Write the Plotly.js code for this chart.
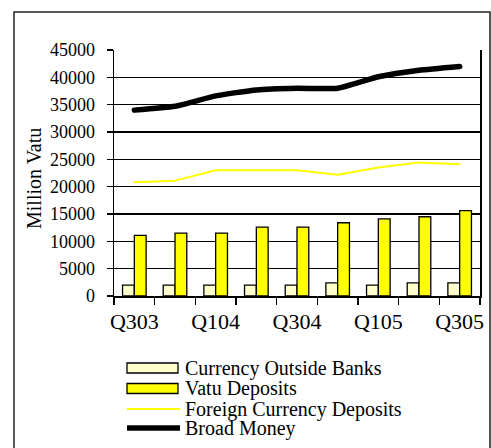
<!DOCTYPE html>
<html>
<head>
<meta charset="utf-8">
<script src="https://cdn.plot.ly/plotly-3.0.1.min.js"></script>
<style>
html,body{margin:0;padding:0;background:#fff;}
#chart{width:491px;height:448px;}
.js-line{stroke-linecap:round;stroke-linejoin:round;}
</style>
</head>
<body>
<div id="chart"></div>
<script>
// ---- data ----
var quarters = ['Q303','Q403','Q104','Q204','Q304','Q404','Q105','Q205','Q305'];
var tickLabels = ['Q303','','Q104','','Q304','','Q105','','Q305'];
var currencyOutsideBanks = [2000, 2000, 2000, 2000, 2000, 2400, 2000, 2400, 2400];
var vatuDeposits = [11100, 11500, 11500, 12600, 12600, 13400, 14100, 14500, 15600];
var foreignCurrencyDeposits = [20800, 21100, 23000, 23000, 23000, 22200, 23500, 24400, 24100];
var broadMoney = [34000, 34700, 36600, 37700, 38000, 38000, 40100, 41300, 42000];
var seriesNames = ['Currency Outside Banks', 'Vatu Deposits', 'Foreign Currency Deposits', 'Broad Money'];
var yTitle = 'Million Vatu';

// ---- geometry helpers (pixel -> paper) ----
var W = 491, H = 448;
var M = {l: 114, r: 11, t: 50, b: 152};
var PW = W - M.l - M.r, PH = H - M.t - M.b;
function px(x){ return (x - M.l) / PW; }
function py(y){ return (H - M.b - y) / PH; }

var FONT = '"Liberation Serif", "Times New Roman", "DejaVu Serif", serif';

var traces = [
  {type:'bar', x:quarters, y:currencyOutsideBanks, name:seriesNames[0],
   marker:{color:'#FFFFCC', line:{color:'#000', width:1.3}}, showlegend:false, hoverinfo:'y'},
  {type:'bar', x:quarters, y:vatuDeposits, name:seriesNames[1],
   marker:{color:'#FFFF00', line:{color:'#000', width:1.3}}, showlegend:false, hoverinfo:'y'},
  {type:'scatter', mode:'lines', x:quarters, y:foreignCurrencyDeposits, name:seriesNames[2],
   line:{color:'#FFFF00', width:2}, showlegend:false},
  {type:'scatter', mode:'lines', x:quarters, y:broadMoney, name:seriesNames[3],
   line:{color:'#000', width:5.5, shape:'spline', smoothing:0.5}, showlegend:false}
];

// custom legend (symbols + labels)
var legRows = [368, 388.5, 409, 428];
var symX0 = px(127), symX1 = px(178);
var shapes = [
  // outer frame
  {type:'rect', xref:'paper', yref:'paper', x0:px(14), x1:px(490), y0:py(12), y1:py(470),
   line:{color:'#222', width:1.5}, fillcolor:'rgba(0,0,0,0)'},
  {type:'rect', xref:'paper', yref:'paper', x0:symX0, x1:symX1, y0:py(legRows[0]-5), y1:py(legRows[0]+5),
   line:{color:'#000', width:1.3}, fillcolor:'#FFFFCC'},
  {type:'rect', xref:'paper', yref:'paper', x0:symX0, x1:symX1, y0:py(legRows[1]-5), y1:py(legRows[1]+5),
   line:{color:'#000', width:1.3}, fillcolor:'#FFFF00'},
  {type:'line', xref:'paper', yref:'paper', x0:symX0, x1:px(180), y0:py(legRows[2]), y1:py(legRows[2]),
   line:{color:'#FFFF00', width:2}},
  {type:'line', xref:'paper', yref:'paper', x0:symX0, x1:px(180), y0:py(legRows[3]), y1:py(legRows[3]),
   line:{color:'#000', width:5.5}}
];
var annotations = seriesNames.map(function(n, i){
  return {xref:'paper', yref:'paper', x:px(183), y:py(legRows[i]), text:n, showarrow:false,
          xanchor:'left', yanchor:'middle', font:{family:FONT, size:20, color:'#000'}};
});
// y-axis title
annotations.push({xref:'paper', yref:'paper', x:px(34), y:py(179), text:yTitle, textangle:-90,
  showarrow:false, xanchor:'center', yanchor:'middle', font:{family:FONT, size:20, color:'#000'}});

var layout = {
  width: W, height: H,
  margin: M,
  paper_bgcolor:'#fff', plot_bgcolor:'#fff',
  barmode:'group', bargap:0.42, bargroupgap:0,
  showlegend:false,
  font:{family:FONT, size:19, color:'#000'},
  xaxis:{
    type:'category', tickmode:'array', tickvals:quarters, ticktext:tickLabels,
    tickson:'boundaries', ticks:'outside', ticklen:7, tickwidth:1.3, tickcolor:'#000',
    showline:true, linecolor:'#000', linewidth:1.5, showgrid:false, zeroline:false,
    tickfont:{family:FONT, size:22, color:'#000'}, tickangle:0, ticklabelstandoff:5
  },
  yaxis:{
    range:[0,45000], dtick:5000, tick0:0, tickformat:'d', showgrid:true, gridcolor:'#000', gridwidth:1.2,
    ticks:'outside', ticklen:6, tickwidth:1.3, tickcolor:'#000',
    showline:true, mirror:true, linecolor:'#000', linewidth:1.5, zeroline:false,
    tickfont:{family:FONT, size:18, color:'#000'}, ticklabelstandoff:8
  },
  shapes: shapes,
  annotations: annotations
};

Plotly.newPlot('chart', traces, layout, {displayModeBar:false, staticPlot:true});
</script>
</body>
</html>
